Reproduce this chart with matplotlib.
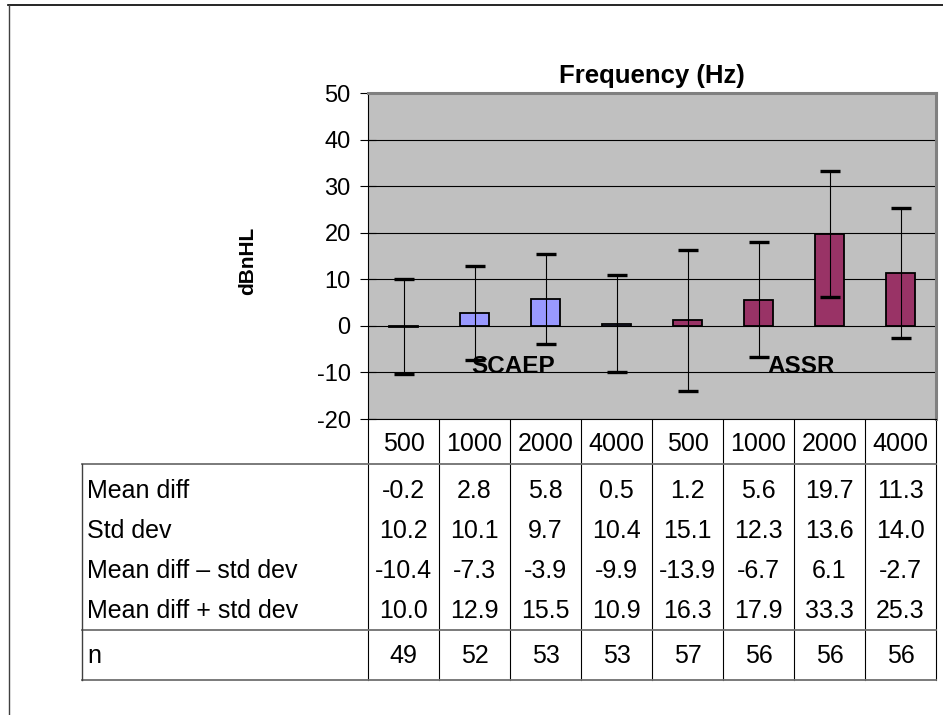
import matplotlib
matplotlib.use('Agg')
import matplotlib.pyplot as plt
from matplotlib.transforms import blended_transform_factory

plt.rcParams['font.family'] = ['Liberation Sans', 'DejaVu Sans']
plt.rcParams['axes.unicode_minus'] = False

# ---- data ----
group_names = ['SCAEP', 'ASSR']
freq_labels = ['500', '1000', '2000', '4000', '500', '1000', '2000', '4000']
mean_diff = [-0.2, 2.8, 5.8, 0.5, 1.2, 5.6, 19.7, 11.3]
std_dev = [10.2, 10.1, 9.7, 10.4, 15.1, 12.3, 13.6, 14.0]
lower = [-10.4, -7.3, -3.9, -9.9, -13.9, -6.7, 6.1, -2.7]
upper = [10.0, 12.9, 15.5, 10.9, 16.3, 17.9, 33.3, 25.3]
n_vals = [49, 52, 53, 53, 57, 56, 56, 56]
row_labels = ['Mean diff', 'Std dev', 'Mean diff \u2013 std dev', 'Mean diff + std dev']
y_ticks = [-20, -10, 0, 10, 20, 30, 40, 50]

group_colors = {'SCAEP': '#9999FF', 'ASSR': '#993366'}
group_of_bar = ['SCAEP'] * 4 + ['ASSR'] * 4

W, H = 943, 715
fig = plt.figure(figsize=(W / 100, H / 100), dpi=100)

# background overlay in pixel coordinates
bg = fig.add_axes([0, 0, 1, 1], zorder=0)
bg.set_xlim(0, W)
bg.set_ylim(H, 0)
bg.axis('off')

# plot area
L, R, T, B = 368, 936, 93, 419
ax = fig.add_axes([L / W, (H - B) / H, (R - L) / W, (B - T) / H], zorder=1)
ax.set_facecolor('#C0C0C0')

x = list(range(len(mean_diff)))
colors = [group_colors[g] for g in group_of_bar]
ax.bar(x, mean_diff, width=0.4, color=colors, edgecolor='black', linewidth=1.3, zorder=3)
yerr = [[m - lo for m, lo in zip(mean_diff, lower)], [up - m for m, up in zip(mean_diff, upper)]]
ax.errorbar(x, mean_diff, yerr=yerr, fmt='none', ecolor='black', elinewidth=0.8,
            capsize=7.5, capthick=2.4, zorder=4)

ax.set_xlim(-0.5, 7.5)
ax.set_ylim(-20, 50)
ax.set_yticks(y_ticks)
ax.set_xticks([])
ax.yaxis.grid(True, color='black', linewidth=0.8)
ax.set_axisbelow(True)
ax.tick_params(axis='y', direction='inout', length=11, width=0.8, labelsize=17, pad=7)
for s in ['top', 'right']:
    ax.spines[s].set_color('#808080')
    ax.spines[s].set_linewidth(2.2)
ax.spines['left'].set_color('black')
ax.spines['left'].set_linewidth(0.8)
ax.spines['bottom'].set_color('black')
ax.spines['bottom'].set_linewidth(0.8)

ax.set_title('Frequency (Hz)', fontsize=18.5, fontweight='bold', pad=7)

# group labels inside plot
ax.text(1.55, -10.1, group_names[0], ha='center', va='baseline', fontsize=17.5,
        fontweight='bold', zorder=5)
ax.text(5.6, -10.1, group_names[1], ha='center', va='baseline', fontsize=17.5,
        fontweight='bold', zorder=5)

# y label
bg.text(248, 261, 'dBnHL', rotation=90, ha='center', va='center', fontsize=15,
        fontweight='bold')

# ---- data table below ----
tr = blended_transform_factory(ax.transData, bg.transData)
tab_left, tab_top, n_top, tab_bot = 82, 464, 630, 680
for xi in range(len(mean_diff) + 1):
    bg.plot([xi - 0.5, xi - 0.5], [B, tab_bot], color='black', lw=0.8, transform=tr,
            clip_on=False)
for yy in [tab_top, n_top, tab_bot]:
    bg.plot([tab_left, R], [yy, yy], color='#707070', lw=1.3, clip_on=False)
bg.plot([tab_left, tab_left], [tab_top, tab_bot], color='#404040', lw=1.0, clip_on=False)

fs = 18
for i, lab in enumerate(freq_labels):
    bg.text(i, 451, lab, ha='center', va='baseline', fontsize=fs, transform=tr)

row_data = [mean_diff, std_dev, lower, upper]
row_base = [498, 538, 578, 618]
for lab, vals, yb in zip(row_labels, row_data, row_base):
    bg.text(87, yb, lab, ha='left', va='baseline', fontsize=fs)
    for i, v in enumerate(vals):
        bg.text(i, yb, f'{v:.1f}', ha='center', va='baseline', fontsize=fs, transform=tr)
bg.text(87, 663, 'n', ha='left', va='baseline', fontsize=fs)
for i, v in enumerate(n_vals):
    bg.text(i, 663, str(v), ha='center', va='baseline', fontsize=fs, transform=tr)

# outer frame fragments
bg.plot([8, W], [5, 5], color='black', lw=1.2, clip_on=False)
bg.plot([8.5, 8.5], [5, H], color='#404040', lw=1.0, clip_on=False)

fig.savefig('out.png', dpi=100)
